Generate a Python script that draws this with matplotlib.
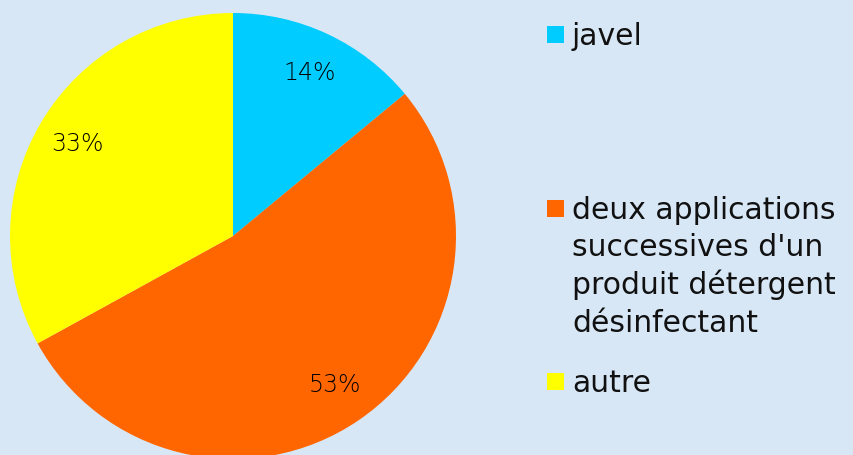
import matplotlib
matplotlib.use("Agg")
import matplotlib.pyplot as plt
from matplotlib.patches import Rectangle

labels = ["javel", "deux applications\nsuccessives d'un\nproduit détergent\ndésinfectant", "autre"]
values = [14, 53, 33]
colors = ["#00CCFF", "#FF6600", "#FFFF00"]

W, H = 854, 455
fig = plt.figure(figsize=(W / 100, H / 100), dpi=100)
fig.patch.set_facecolor("#D8E7F6")

# pie axes: center (233,236) px, radius 223 px
cx, cy, r = 233, 236, 223
ax = fig.add_axes([(cx - r) / W, (H - cy - r) / H, 2 * r / W, 2 * r / H])

wedges, texts, autotexts = ax.pie(
    values, colors=colors, startangle=90, counterclock=False,
    autopct=lambda p: "%d%%" % round(p), pctdistance=0.81, radius=1,
    wedgeprops=dict(linewidth=0),
    textprops=dict(fontsize=17, color="black", family="DejaVu Sans", fontweight=200),
)
ax.set_xlim(-1, 1)
ax.set_ylim(-1, 1)
ax.set_aspect("equal")
ax.axis("off")

# legend drawn manually
sq = 17
leg_x = 547
text_x = 572
first_baselines = [45, 219, 392]
line_gap = 37.5
for lab, col, base in zip(labels, colors, first_baselines):
    top = base - 19
    fig.patches.append(Rectangle((leg_x / W, (H - top - sq) / H), sq / W, sq / H,
                                 transform=fig.transFigure, facecolor=col,
                                 edgecolor="none"))
    for i, line in enumerate(lab.split("\n")):
        fig.text(text_x / W, (H - base - i * line_gap) / H, line, fontsize=21.5,
                 family="DejaVu Sans", color="#111111", va="baseline", ha="left")

fig.savefig("out.png", dpi=100, facecolor=fig.get_facecolor())
